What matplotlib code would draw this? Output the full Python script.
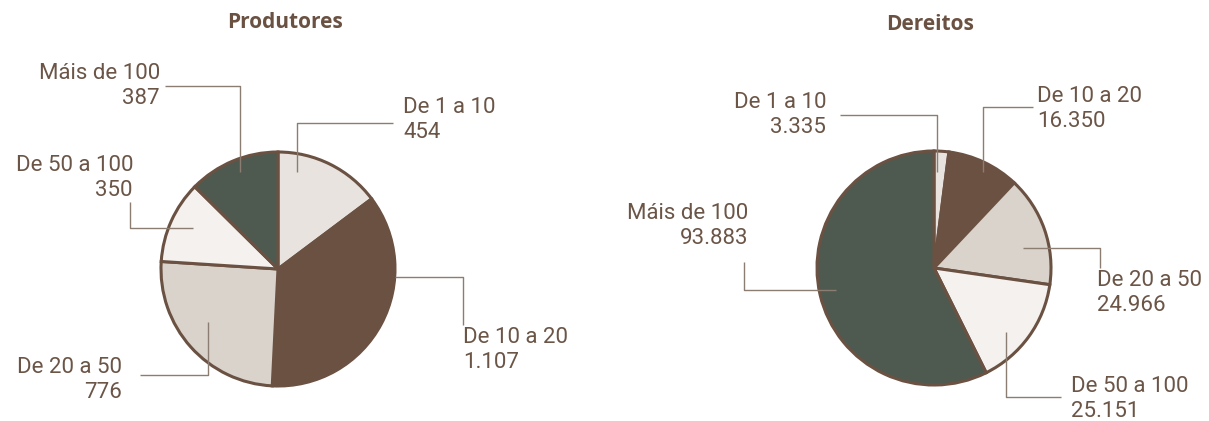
import matplotlib.pyplot as plt

# data
prod_labels = ["De 1 a 10", "De 10 a 20", "De 20 a 50", "De 50 a 100", "Máis de 100"]
prod_values = [454, 1107, 776, 350, 387]
prod_text = ["454", "1.107", "776", "350", "387"]

der_labels = ["De 1 a 10", "De 10 a 20", "De 20 a 50", "De 50 a 100", "Máis de 100"]
der_values = [3335, 16350, 24966, 25151, 93883]
der_text = ["3.335", "16.350", "24.966", "25.151", "93.883"]

slice_colors = ["#E8E3DE", "#6A5142", "#DAD3CB", "#F4F1EE", "#4E5A50"]
edge_color = "#6A5142"
text_color = "#6B5547"
line_color = "#8C7D73"

W, H = 1209, 421
fig = plt.figure(figsize=(W / 100, H / 100), dpi=100)
ax = fig.add_axes([0, 0, 1, 1])


def py(y):
    """ pixel row (from top) to data y """
    return H - y


def draw_pie(values, cx, cy):
    ax.pie(values, colors=slice_colors, startangle=90, counterclock=False,
           center=(cx, py(cy)), radius=117, frame=True,
           wedgeprops=dict(edgecolor=edge_color, linewidth=2.2))


def label(text, x, y, ha, leader):
    ax.text(x, py(y), text, ha=ha, va="center", multialignment=ha,
            fontsize=16, color=text_color, family="Roboto",
            fontweight="normal", linespacing=1.2)
    xs = [p[0] for p in leader]
    ys = [py(p[1]) for p in leader]
    ax.plot(xs, ys, color=line_color, lw=1.0, solid_capstyle="butt")


draw_pie(prod_values, 278, 269)
draw_pie(der_values, 934, 268)

ax.set_xlim(0, W)
ax.set_ylim(0, H)
ax.set_aspect("equal")
ax.axis("off")

# Produtores labels
prod_pos = [
    (403, 120, "left", [(393, 123), (297, 123), (297, 172)]),
    (463, 350, "left", [(395, 277), (463, 277), (463, 325)]),
    (122, 380, "right", [(140, 375), (208, 375), (208, 322)]),
    (133, 178, "right", [(130, 202), (130, 228), (193, 228)]),
    (160, 86, "right", [(165, 86), (240, 86), (240, 172)]),
]
for name, val, (x, y, ha, leader) in zip(prod_labels, prod_text, prod_pos):
    label(name + "\n" + val, x, y, ha, leader)

# Dereitos labels
der_pos = [
    (826, 115, "right", [(840, 115), (937, 115), (937, 172)]),
    (1037, 109, "left", [(1033, 107), (983, 107), (983, 172)]),
    (1097, 293, "left", [(1023, 248), (1100, 248), (1100, 268)]),
    (1071, 399, "left", [(1006, 332), (1006, 397), (1061, 397)]),
    (748, 226, "right", [(744, 262), (744, 290), (836, 290)]),
]
for name, val, (x, y, ha, leader) in zip(der_labels, der_text, der_pos):
    label(name + "\n" + val, x, y, ha, leader)

ax.text(285, py(22), "Produtores", ha="center", va="center", fontsize=15,
        fontweight="bold", color=edge_color, family="Open Sans")
ax.text(930, py(25), "Dereitos", ha="center", va="center", fontsize=15,
        fontweight="bold", color=edge_color, family="Open Sans")

fig.savefig("out.png", dpi=100)
